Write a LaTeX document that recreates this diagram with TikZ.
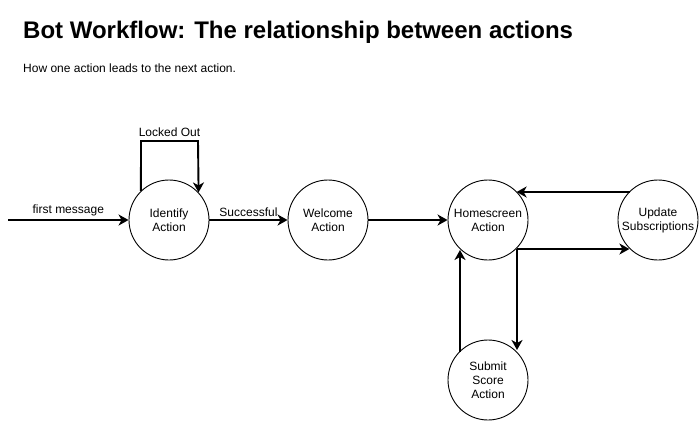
\documentclass[tikz,border=0pt]{standalone}
\usepackage{fontspec}
\setmainfont{Liberation Sans}
\usetikzlibrary{arrows.meta}
\begin{document}
\begin{tikzpicture}[x=1pt,y=-1pt,
  act/.style={circle,draw,line width=0.9pt,minimum size=80pt,inner sep=0pt,align=center,font=\fontsize{12}{14}\selectfont},
  flow/.style={line width=1.9pt,-{Stealth[length=10pt,width=11pt,inset=3pt]}},
  lbl/.style={font=\fontsize{12}{13}\selectfont,inner sep=1pt}]
\useasboundingbox (0,0) rectangle (699,421);
\node[anchor=base west,font=\fontsize{24}{28}\selectfont\bfseries,inner sep=0pt] (title) at (23,38) {Bot Workflow: The relationship between actions};
\node[anchor=base west,font=\fontsize{12}{13}\selectfont,inner sep=0pt] (sub) at (23,72) {How one action leads to the next action.};

\node[act] (id) at (169,220) {Identify\\Action};
\node[act] (wel) at (328,220) {Welcome\\Action};
\node[act] (home) at (488,220) {Homescreen\\Action};
\node[act] (upd) at (658,220) {Update\\Subscriptions};
\node[act] (sub2) at (488,380) {Submit\\Score\\Action};

\coordinate (start) at (8,220);
\draw[flow] (start) -- (id) node[lbl,midway,above=2pt] {first message};
\draw[flow] (id) -- (wel) node[lbl,midway,above=1pt] {Successful};
\draw[flow] (wel) -- (home);

% locked out loop
\coordinate (la) at (141,141);
\coordinate (lb) at (198,141);
\draw[flow] (id.134) -- (la) -- (lb) node[lbl,midway,above=2pt] {Locked Out} -- (id.43);

% update -> home
\coordinate (ua) at (630,192);
\draw[flow] (ua) -- (home.45 |- ua);
% home -> update
\coordinate (hb) at (517,249);
\draw[flow] (hb) -- (upd.225 |- hb);
% home -> submit
\draw[flow] (hb) -- (517,350);
% submit -> home
\draw[flow] (460,352) -- (460,250);
\end{tikzpicture}
\end{document}
